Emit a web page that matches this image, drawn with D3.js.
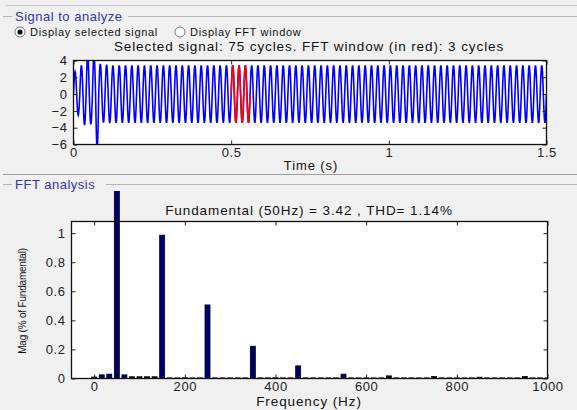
<!DOCTYPE html>
<html lang="en">
<head>
<meta charset="UTF-8">
<title>FFT analysis</title>
<style>
  body { margin: 0; background: #f0f0f0; }
  svg text { font-family: "Liberation Sans", Arial, sans-serif; }
</style>
</head>
<body>
<div class="canvas"></div>
<script src="https://cdnjs.cloudflare.com/ajax/libs/d3/7.8.2/d3.min.js"></script>
<script>
// ---- data ----
// one steady-state cycle of the signal (normalized), 20 samples per 50 Hz cycle
const cycleShape = [0.00, 0.31, 0.59, 0.81, 0.95, 1.00, 0.95, 0.81, 0.59, 0.31,
                    0.00, -0.31, -0.59, -0.81, -0.95, -1.00, -0.95, -0.81, -0.59, -0.31];
// start-up transient: positive / negative peak of the first cycles
const transientPos = [2.7, 3.4, 4.6, 4.6, 3.6, 3.5];
const transientNeg = [-2.5, -3.7, -3.6, -6.6, -3.4, -3.45];
const fundamentalPeak = 3.42;
const nCycles = 75;
const samplesPerCycle = 20;
const fftWindow = [0.5, 0.56];   // seconds, drawn in red

const timeTicks = [0, 0.5, 1, 1.5];
const sigTicks = [-6, -4, -2, 0, 2, 4];

// FFT bins (Hz) and magnitude in % of fundamental
const freqs = [0, 16.7, 33.3, 50, 66.7, 83.3, 100, 116.7, 133.3, 150,
  166.7, 183.3, 200, 216.7, 233.3, 250, 266.7, 283.3, 300, 316.7,
  333.3, 350, 366.7, 383.3, 400, 416.7, 433.3, 450, 466.7, 483.3,
  500, 516.7, 533.3, 550, 566.7, 583.3, 600, 616.7, 633.3, 650,
  666.7, 683.3, 700, 716.7, 733.3, 750, 766.7, 783.3, 800, 816.7,
  833.3, 850, 866.7, 883.3, 900, 916.7, 933.3, 950, 966.7, 983.3, 1000];
const mags = [0.010, 0.025, 0.030, 100, 0.025, 0.012, 0.012, 0.012, 0.012, 0.986,
  0.004, 0.004, 0.005, 0.004, 0.004, 0.506, 0.004, 0.004, 0.004, 0.004,
  0.004, 0.222, 0.004, 0.004, 0.005, 0.004, 0.004, 0.087, 0.004, 0.004,
  0.004, 0.004, 0.004, 0.030, 0.004, 0.004, 0.004, 0.004, 0.004, 0.018,
  0.004, 0.004, 0.004, 0.004, 0.004, 0.014, 0.004, 0.004, 0.004, 0.004,
  0.004, 0.009, 0.004, 0.004, 0.004, 0.004, 0.004, 0.014, 0.004, 0.004, 0.004];
const freqTicks = [0, 200, 400, 600, 800, 1000];
const magTicks = [0, 0.2, 0.4, 0.6, 0.8, 1];

// ---- build the time series from the cycle data ----
const signal = [];
for (let c = 0; c < nCycles; c++) {
  const pos = c < transientPos.length ? transientPos[c] : fundamentalPeak;
  const neg = c < transientNeg.length ? -transientNeg[c] : fundamentalPeak;
  cycleShape.forEach((v, i) => {
    const t = (c * samplesPerCycle + i) / (samplesPerCycle * 50);
    signal.push({ t: t, v: v >= 0 ? v * pos : v * neg });
  });
}
signal.push({ t: 1.5, v: 0 });

const width = 577, height = 410;
const svg = d3.select(".canvas").append("svg")
  .attr("width", width).attr("height", height)
  .style("display", "block");

svg.append("rect").attr("width", width).attr("height", height).attr("fill", "#f0f0f0");

// text helper, the original UI font runs wide
function label(x, y, str, size, anchor) {
  return svg.append("text").attr("x", x).attr("y", y)
    .attr("text-anchor", anchor || "start")
    .attr("font-size", size).attr("letter-spacing", 0.9)
    .attr("fill", "#111").text(str);
}

// ---- panel frames ----
const panelColor = "#3333b3";
svg.append("line").attr("x1", 6).attr("x2", width).attr("y1", 5.5).attr("y2", 5.5)
  .attr("stroke", "#c8c8c8");
function panelTitle(str, y, textEnd) {
  svg.append("line").attr("x1", 3).attr("x2", 12).attr("y1", y).attr("y2", y).attr("stroke", "#b4b4b4");
  svg.append("line").attr("x1", textEnd).attr("x2", width).attr("y1", y).attr("y2", y).attr("stroke", "#b4b4b4");
  label(15, y + 4.5, str, 13).attr("fill", panelColor).attr("letter-spacing", 0.5);
}
panelTitle("Signal to analyze", 16.5, 128);
svg.append("line").attr("x1", 3).attr("x2", width).attr("y1", 174.5).attr("y2", 174.5).attr("stroke", "#a0a0a0");
panelTitle("FFT analysis", 184.5, 106);

// radio buttons
function radio(cx, str, on) {
  svg.append("circle").attr("cx", cx).attr("cy", 32).attr("r", 5)
    .attr("fill", "white").attr("stroke", "#555").attr("stroke-width", 0.8);
  if (on) svg.append("circle").attr("cx", cx).attr("cy", 32).attr("r", 2.6).attr("fill", "#111");
  label(cx + 10, 35.5, str, 11).attr("letter-spacing", 0.7);
}
radio(20, "Display selected signal", true);
radio(180, "Display FFT window", false);

// ---- top axes: signal ----
const xT = d3.scaleLinear().domain([0, 1.5]).range([73.5, 546.5]);
const yT = d3.scaleLinear().domain([-6, 4]).range([144.5, 60.5]);

svg.append("rect").attr("x", xT(0)).attr("y", yT(4))
  .attr("width", xT(1.5) - xT(0)).attr("height", yT(-6) - yT(4)).attr("fill", "white");

svg.append("clipPath").attr("id", "clipT").append("rect")
  .attr("x", xT(0)).attr("y", yT(4)).attr("width", xT(1.5) - xT(0)).attr("height", yT(-6) - yT(4));

const line = d3.line().x(d => xT(d.t)).y(d => yT(d.v));
const plotT = svg.append("g").attr("clip-path", "url(#clipT)");
plotT.append("path").datum(signal).attr("d", line)
  .attr("fill", "none").attr("stroke", "#0000ff").attr("stroke-width", 1.6);
plotT.append("path").datum(signal.filter(d => d.t >= fftWindow[0] && d.t <= fftWindow[1]))
  .attr("d", line).attr("fill", "none").attr("stroke", "#ff0000").attr("stroke-width", 1.6);

function styleAxis(g) {
  g.selectAll("text").attr("font-size", 13).attr("fill", "#222")
    .attr("letter-spacing", 0.6)
    .attr("font-family", "Liberation Sans, Arial, sans-serif");
  g.selectAll("line").attr("stroke", "#222");
  g.select(".domain").remove();
}

svg.append("g").attr("transform", `translate(0,${yT(-6)})`)
  .call(d3.axisBottom(xT).tickValues(timeTicks).tickFormat(d3.format("")).tickSize(-4).tickPadding(3))
  .call(styleAxis);
svg.append("g").attr("transform", `translate(0,${yT(4)})`)
  .call(d3.axisTop(xT).tickValues(timeTicks).tickFormat("").tickSize(-4))
  .call(styleAxis);
svg.append("g").attr("transform", `translate(${xT(0)},0)`)
  .call(d3.axisLeft(yT).tickValues(sigTicks).tickSize(-4).tickPadding(6))
  .call(styleAxis);
svg.append("g").attr("transform", `translate(${xT(1.5)},0)`)
  .call(d3.axisRight(yT).tickValues(sigTicks).tickFormat("").tickSize(-4))
  .call(styleAxis);
svg.append("rect").attr("x", xT(0)).attr("y", yT(4))
  .attr("width", xT(1.5) - xT(0)).attr("height", yT(-6) - yT(4))
  .attr("fill", "none").attr("stroke", "#111").attr("stroke-width", 1.3);

label(309, 51, "Selected signal: 75 cycles. FFT window (in red): 3 cycles", 13.5, "middle");
label(311, 170, "Time (s)", 13, "middle");

// ---- bottom axes: FFT ----
const xF = d3.scaleLinear().domain([-50, 1000]).range([71.5, 547.5]);
const yF = d3.scaleLinear().domain([0, 1.08]).range([378.5, 221.5]);

svg.append("rect").attr("x", xF(-50)).attr("y", yF(1.08))
  .attr("width", xF(1000) - xF(-50)).attr("height", yF(0) - yF(1.08)).attr("fill", "white");

label(309, 215, "Fundamental (50Hz) = 3.42 , THD= 1.14%", 13.5, "middle");

// bars may run above the axes up to the panel border
svg.append("clipPath").attr("id", "clipF").append("rect")
  .attr("x", xF(-50)).attr("y", 191).attr("width", xF(1000) - xF(-50)).attr("height", yF(0) - 191);

const barW = (xF(50 / 3) - xF(0)) * 0.66;
svg.append("g").attr("clip-path", "url(#clipF)")
  .selectAll("rect").data(freqs).enter().append("rect")
  .attr("x", (d) => xF(d) - barW / 2)
  .attr("y", (d, i) => yF(mags[i]))
  .attr("width", barW)
  .attr("height", (d, i) => yF(0) - yF(mags[i]))
  .attr("fill", "#000070").attr("stroke", "#000").attr("stroke-width", 0.8);

svg.append("g").attr("transform", `translate(0,${yF(0)})`)
  .call(d3.axisBottom(xF).tickValues(freqTicks).tickFormat(d3.format("")).tickSize(-4).tickPadding(3))
  .call(styleAxis);
svg.append("g").attr("transform", `translate(0,${yF(1.08)})`)
  .call(d3.axisTop(xF).tickValues(freqTicks).tickFormat("").tickSize(-4))
  .call(styleAxis);
svg.append("g").attr("transform", `translate(${xF(-50)},0)`)
  .call(d3.axisLeft(yF).tickValues(magTicks).tickFormat(d3.format("")).tickSize(-4).tickPadding(6))
  .call(styleAxis);
svg.append("g").attr("transform", `translate(${xF(1000)},0)`)
  .call(d3.axisRight(yF).tickValues(magTicks).tickFormat("").tickSize(-4))
  .call(styleAxis);
svg.append("rect").attr("x", xF(-50)).attr("y", yF(1.08))
  .attr("width", xF(1000) - xF(-50)).attr("height", yF(0) - yF(1.08))
  .attr("fill", "none").attr("stroke", "#111").attr("stroke-width", 1.3);

label(309, 406, "Frequency (Hz)", 13.5, "middle");
svg.append("text").attr("transform", "translate(26,301) rotate(-90)")
  .attr("text-anchor", "middle").attr("font-size", 10).attr("letter-spacing", -0.2)
  .attr("fill", "#111")
  .text("Mag (% of Fundamental)");
</script>
</body>
</html>
